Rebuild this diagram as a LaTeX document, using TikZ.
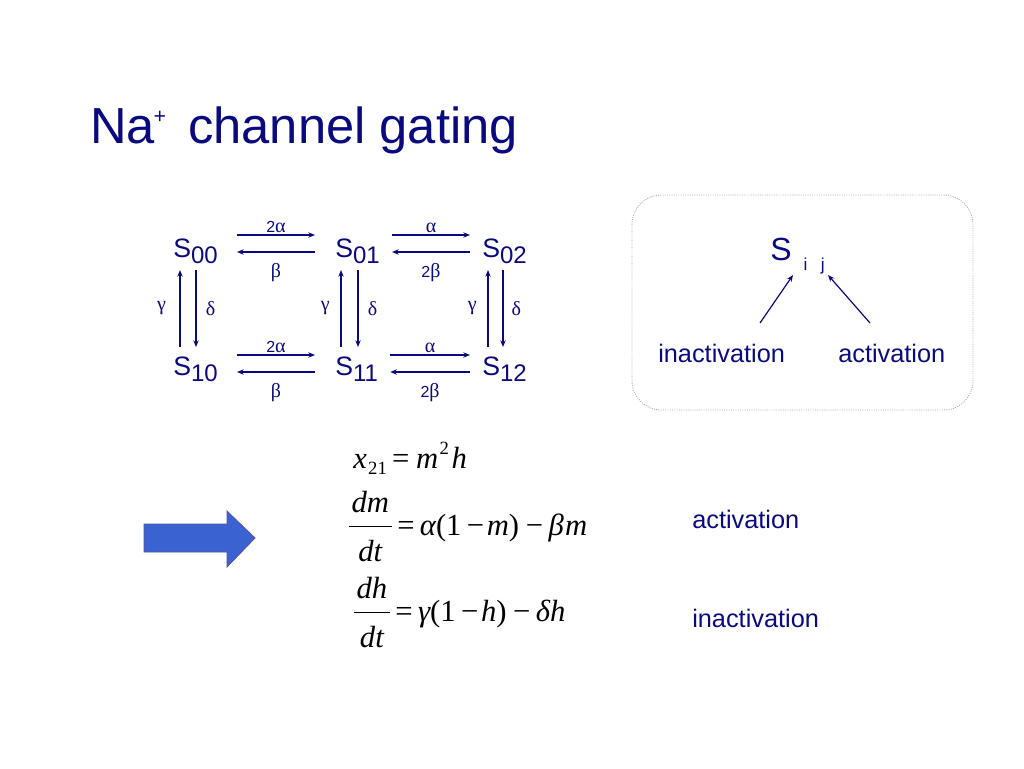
\documentclass[tikz,border=0pt]{standalone}
\usepackage{fontspec}
\setmainfont{Liberation Sans}
\newfontfamily\serif{Liberation Serif}
\usetikzlibrary{positioning,calc,arrows.meta}
\definecolor{theme}{RGB}{10,10,128}
\definecolor{blockblue}{RGB}{58,98,208}

\newcommand{\state}[1]{S\raisebox{-5pt}{\fontsize{18}{20}\selectfont #1}}
\newcommand{\gk}[1]{{\serif\fontsize{15}{17}\selectfont #1}}
\newcommand{\ddt}[1]{{\hbox{\kern2pt\itshape d#1\kern2pt}\over\hbox{\vrule height 25pt width 0pt\itshape dt}}}

\tikzset{
  state/.style={anchor=base west, inner sep=0pt, text=theme, font=\fontsize{20}{24}\selectfont},
  rate/.style={-{Stealth[length=5pt,width=4pt]}, draw=theme, line width=0.9pt},
  ratelab/.style={text=theme, inner sep=1pt, font=\fontsize{12}{14}\selectfont},
  word/.style={anchor=base west, inner sep=0pt, text=theme, font=\fontsize{19}{22}\selectfont},
  eqn/.style={anchor=base west, inner sep=0pt, text=black, font=\serif\fontsize{23}{28}\selectfont}
}

\begin{document}
\begin{tikzpicture}[x=0.75pt,y=-0.75pt]
      \useasboundingbox (0,0) rectangle (1024,768);

      % title
      \node[anchor=base west, inner sep=0pt, text=theme, font=\fontsize{38}{44}\selectfont] (title) at (90,143)
        {Na\kern-1pt\raisebox{15pt}{\fontsize{16}{18}\selectfont +}\hspace{6pt} channel gating};

      % states
      \node[state] (s00) at (173,257) {\state{00}};
      \node[state] (s01) at (335,257) {\state{01}};
      \node[state] (s02) at (482,257) {\state{02}};
      \node[state] (s10) at (173,375) {\state{10}};
      \node[state] (s11) at (335,375) {\state{11}};
      \node[state] (s12) at (482,375) {\state{12}};

      % activation steps
      \draw[rate] ([shift={(19,-22)}]s00.base east) -- ([shift={(-20,-22)}]s01.base west)
        node[midway, above=0.5pt, ratelab] {2\gk{α}};
      \draw[rate] ([shift={(-20,-5)}]s01.base west) -- ([shift={(19,-5)}]s00.base east)
        node[midway, below=7pt, ratelab] {\gk{β}};
      \draw[rate] ([shift={(12,-22)}]s01.base east) -- ([shift={(-12,-22)}]s02.base west)
        node[midway, above=0.5pt, ratelab] {\gk{α}};
      \draw[rate] ([shift={(-12,-5)}]s02.base west) -- ([shift={(12,-5)}]s01.base east)
        node[midway, below=7pt, ratelab] {2\gk{β}};

      \draw[rate] ([shift={(19,-20)}]s10.base east) -- ([shift={(-20,-20)}]s11.base west)
        node[midway, above=0.5pt, ratelab] {2\gk{α}};
      \draw[rate] ([shift={(-20,-3)}]s11.base west) -- ([shift={(19,-3)}]s10.base east)
        node[midway, below=7pt, ratelab] {\gk{β}};
      \draw[rate] ([shift={(12,-20)}]s11.base east) -- ([shift={(-12,-20)}]s12.base west)
        node[midway, above=0.5pt, ratelab] {\gk{α}};
      \draw[rate] ([shift={(-12,-3)}]s12.base west) -- ([shift={(12,-3)}]s11.base east)
        node[midway, below=7pt, ratelab] {2\gk{β}};

      % inactivation steps
      \draw[rate] ([shift={(7,-28)}]s10.base west) -- ([shift={(7,13)}]s00.base west)
        node[midway, left=9pt, ratelab] {\gk{γ}};
      \draw[rate] ([shift={(23,13)}]s00.base west) -- ([shift={(23,-28)}]s10.base west)
        node[midway, right=6pt, ratelab] {\gk{δ}};
      \draw[rate] ([shift={(6,-28)}]s11.base west) -- ([shift={(6,13)}]s01.base west)
        node[midway, left=7pt, ratelab] {\gk{γ}};
      \draw[rate] ([shift={(23,13)}]s01.base west) -- ([shift={(23,-28)}]s11.base west)
        node[midway, right=6pt, ratelab] {\gk{δ}};
      \draw[rate] ([shift={(6,-28)}]s12.base west) -- ([shift={(6,13)}]s02.base west)
        node[midway, left=7pt, ratelab] {\gk{γ}};
      \draw[rate] ([shift={(21,13)}]s02.base west) -- ([shift={(21,-28)}]s12.base west)
        node[midway, right=5pt, ratelab] {\gk{δ}};

      % legend box
      \draw[densely dotted, draw=gray!65, line width=0.7pt, rounded corners=22pt] (632,195) rectangle (973,410);
      \node[anchor=base west, inner sep=0pt, text=theme, font=\fontsize{24}{28}\selectfont] (sij) at (770,260)
        {S\hspace{9pt}\raisebox{-7.5pt}{\fontsize{13}{15}\selectfont i\hspace{10pt}j}};
      \node[word] (inact) at (658,362) {inactivation};
      \node[word] (act) at (838,362) {activation};
      \coordinate (ia) at (760,323);
      \coordinate (aa) at (870,323);
      \draw[rate] (ia) -- ([shift={(23,15)}]sij.base west);
      \draw[rate] (aa) -- ([shift={(58,15)}]sij.base west);

      % block arrow
      \draw[fill=blockblue, draw=theme!70, line width=0.6pt]
        (144,524) -- (227,524) -- (227,511) -- (255,538) -- (227,567) -- (227,552) -- (144,552) -- cycle;

      % equations
      \node[eqn] (eqx) at (353,468)
        {{\itshape x}\kern1pt\raisebox{-5pt}{\fontsize{14}{15}\selectfont 21}\hspace{4pt}=\hspace{5pt}{\itshape m}\kern1pt\raisebox{10pt}{\fontsize{14}{15}\selectfont 2}\kern2pt{\itshape h}};
      \node[eqn] (eqm) at (347,535)
        {$\displaystyle\ddt{m}$\hspace{3pt}=\hspace{4pt}{\itshape α}(1\hspace{4pt}−\hspace{2pt}{\itshape m})\hspace{5pt}−\hspace{4pt}{\itshape β\kern1pt m}};
      \node[eqn] (eqh) at (352,621)
        {$\displaystyle\ddt{h}$\hspace{3pt}=\hspace{4pt}{\itshape γ}(1\hspace{4pt}−\hspace{2pt}{\itshape h})\hspace{5pt}−\hspace{4pt}{\itshape δh}};

      \node[word] (act2) at (692,528) {activation};
      \node[word] (inact2) at (692,627) {inactivation};

    \end{tikzpicture}
\end{document}
